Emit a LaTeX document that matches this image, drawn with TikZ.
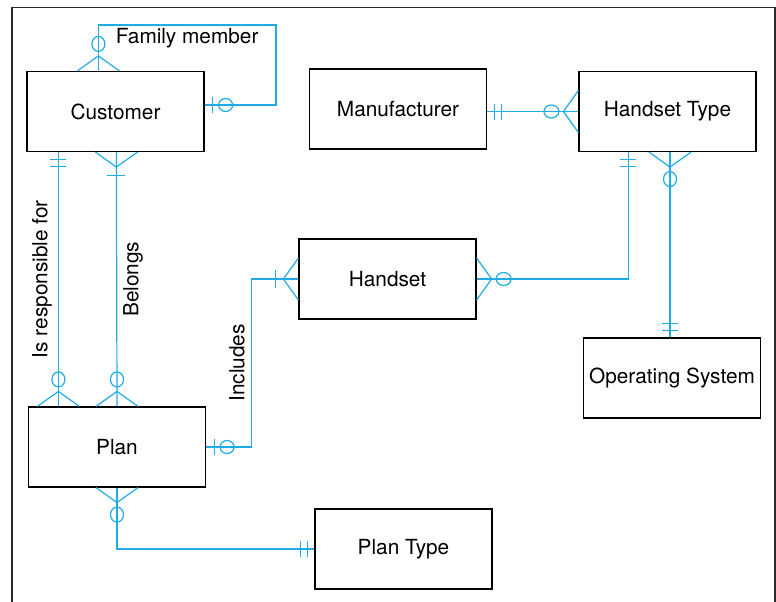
\documentclass[tikz,border=0pt]{standalone}
\usepackage{fontspec}
\setmainfont{TeX Gyre Heros}
\usepackage{tikz}
\usetikzlibrary{calc}
\definecolor{erblue}{RGB}{30,172,230}
\definecolor{framegray}{RGB}{40,40,40}
\tikzset{
  entity/.style={rectangle,draw=black,line width=1.2pt,minimum width=177pt,minimum height=80pt,inner sep=0pt,font=\fontsize{20.8}{25}\selectfont},
  rel/.style={draw=erblue,line width=1.2pt},
  rellabel/.style={font=\fontsize{20.8}{25}\selectfont,text=black,inner sep=6pt},
  zeromany/.pic={\draw[rel] (0,-21) -- (15,0) -- (0,21); \draw[rel] (27,0) ellipse [x radius=7.5,y radius=6.5];},
  onemany/.pic={\draw[rel] (0,-21) -- (15,0) -- (0,21); \draw[rel] (23,-9) -- (23,9);},
  zeroone/.pic={\draw[rel] (8,-8) -- (8,8); \draw[rel] (21,0) ellipse [x radius=7,y radius=6.5];},
  justone/.pic={\draw[rel] (7,-8) -- (7,8); \draw[rel] (14,-8) -- (14,8);}
}
\begin{document}
\begin{tikzpicture}[x=1pt,y=-1pt]
  \useasboundingbox (0,0) rectangle (776,602);
  \draw[line width=1.5pt,draw=framegray] (12,602) -- (12,7.5) -- (775,7.5) -- (775,602);

  \node[entity] (cust) at (115.5,111.5) {Customer};
  \node[entity] (manu) at (398,109) {Manufacturer};
  \node[entity] (htype) at (667.5,111.5) {Handset Type};
  \node[entity] (hset) at (387.5,279) {Handset};
  \node[entity] (os) at (672,378) {Operating System};
  \node[entity] (plan) at (117,447) {Plan};
  \node[entity] (ptype) at (403.5,549) {Plan Type};

  \coordinate (famtop) at ($(cust.north west)+(72,0)$);
  \coordinate (famcorner) at (276,25);
  \coordinate (famend) at ($(cust.east)+(0,-6.5)$);
  \coordinate (respA) at ($(cust.south west)+(32,0)$);
  \coordinate (belA) at ($(cust.south west)+(90,0)$);
  \coordinate (inccorner) at ($(hset.west)+(-47,0)$);
  \coordinate (htbot) at ($(htype.south west)+(50,0)$);
  \coordinate (osline) at ($(htype.south)+(2.5,0)$);

  \draw[rel] (famtop) |- node[pos=0.75,below,rellabel,inner sep=3pt] {Family member} (famcorner) |- (famend);
  \draw[rel] (respA) -- node[midway,above,rotate=90,rellabel] {Is responsible for} (respA |- plan.north);
  \draw[rel] (belA) -- node[midway,below,rotate=90,rellabel] {Belongs} (plan.north);
  \draw[rel] (plan.east) -| node[pos=0.75,above,rotate=90,rellabel] {Includes} (inccorner) -- (hset.west);
  \draw[rel] (hset.east) -| (htbot);
  \draw[rel] (osline) -- (osline |- os.north);
  \draw[rel] (manu.east |- htype.west) -- (htype.west);
  \draw[rel] (plan.south) |- (ptype.west);

  \pic[rotate=90] at (famtop) {zeromany};
  \pic at (famend) {zeroone};
  \pic[rotate=-90] at (respA) {justone};
  \pic[rotate=90] at (respA |- plan.north) {zeromany};
  \pic[rotate=-90] at (belA) {onemany};
  \pic[rotate=90] at (plan.north) {zeromany};
  \pic at (plan.east) {zeroone};
  \pic[rotate=180] at (hset.west) {onemany};
  \pic at (hset.east) {zeromany};
  \pic[rotate=-90] at (htbot) {justone};
  \pic[rotate=-90] at (osline) {zeromany};
  \pic[rotate=90] at (osline |- os.north) {justone};
  \pic at (manu.east |- htype.west) {justone};
  \pic[rotate=180] at (htype.west) {zeromany};
  \pic[rotate=-90] at (plan.south) {zeromany};
  \pic[rotate=180] at (ptype.west) {justone};
\end{tikzpicture}
\end{document}
